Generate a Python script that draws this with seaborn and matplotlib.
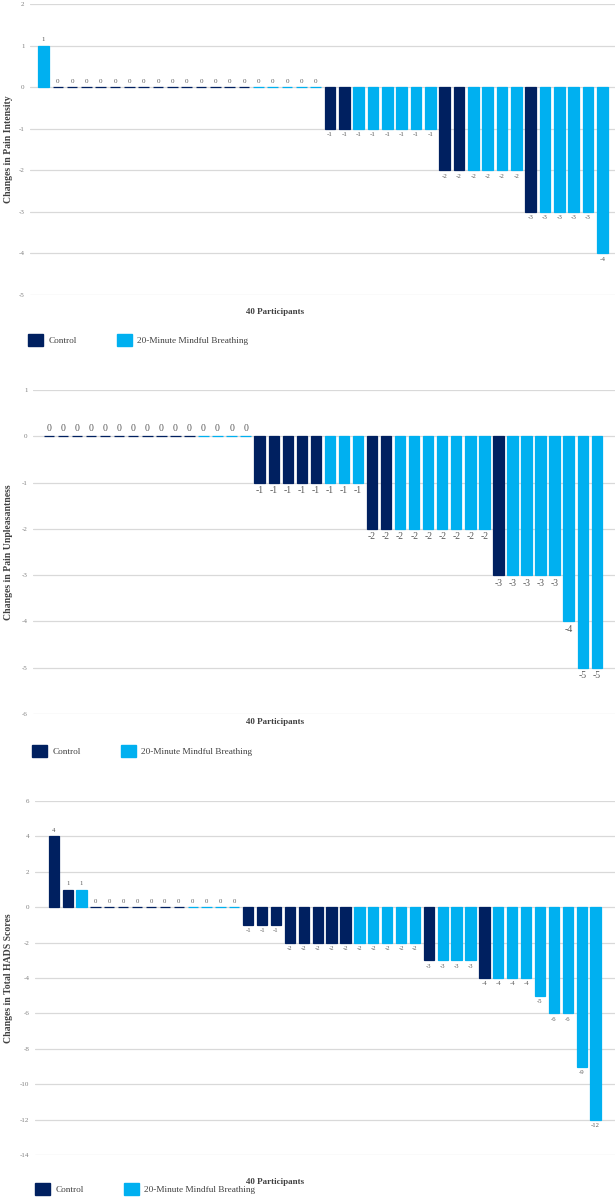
import matplotlib
matplotlib.use("Agg")
import matplotlib.pyplot as plt
import seaborn as sns
import pandas as pd
from matplotlib.patches import Patch

C = "Control"
M = "20-Minute Mindful Breathing"

# Panel 1: Changes in Pain Intensity
intensity_values = [1,
                    0, 0, 0, 0, 0, 0, 0, 0, 0, 0, 0, 0, 0, 0, 0, 0, 0, 0, 0,
                    -1, -1, -1, -1, -1, -1, -1, -1,
                    -2, -2, -2, -2, -2, -2,
                    -3, -3, -3, -3, -3,
                    -4]
intensity_groups = [M,
                    C, C, C, C, C, C, C, C, C, C, C, C, C, C, M, M, M, M, M,
                    C, C, M, M, M, M, M, M,
                    C, C, M, M, M, M,
                    C, M, M, M, M,
                    M]

# Panel 2: Changes in Pain Unpleasantness
unpleasant_values = [0, 0, 0, 0, 0, 0, 0, 0, 0, 0, 0, 0, 0, 0, 0,
                     -1, -1, -1, -1, -1, -1, -1, -1,
                     -2, -2, -2, -2, -2, -2, -2, -2, -2,
                     -3, -3, -3, -3, -3,
                     -4,
                     -5, -5]
unpleasant_groups = [C, C, C, C, C, C, C, C, C, C, C, M, M, M, M,
                     C, C, C, C, C, M, M, M,
                     C, C, M, M, M, M, M, M, M,
                     C, M, M, M, M,
                     M,
                     M, M]

# Panel 3: Changes in Total HADS Scores
hads_values = [4, 1, 1,
               0, 0, 0, 0, 0, 0, 0, 0, 0, 0, 0,
               -1, -1, -1,
               -2, -2, -2, -2, -2, -2, -2, -2, -2, -2,
               -3, -3, -3, -3,
               -4, -4, -4, -4,
               -5,
               -6, -6,
               -9,
               -12]
hads_groups = [C, C, M,
               C, C, C, C, C, C, C, M, M, M, M,
               C, C, C,
               C, C, C, C, C, M, M, M, M, M,
               C, M, M, M,
               C, M, M, M,
               M,
               M, M,
               M,
               M]

intensity_ticks = [2, 1, 0, -1, -2, -3, -4, -5]
unpleasant_ticks = [1, 0, -1, -2, -3, -4, -5, -6]
hads_ticks = [6, 4, 2, 0, -2, -4, -6, -8, -10, -12, -14]

sns.set_theme(style="white")
plt.rcParams['font.family'] = ['Liberation Serif', 'DejaVu Serif']

W, H = 615, 1200
fig = plt.figure(figsize=(W / 100, H / 100), dpi=100)
palette = {C: "#002060", M: "#00b0f0"}
GRID = "#d9d9d9"
TXT = "#595959"


def panel(px_left, px_top, px_bottom, xlim, values, groups, ylim, yticks,
          ylabel, label_size, tick_size):
    rect = [px_left / W, 1 - px_bottom / H, (W - px_left) / W,
            (px_bottom - px_top) / H]
    ax = fig.add_axes(rect)
    df = pd.DataFrame({"participant": [str(i) for i in range(len(values))],
                       "change": values, "group": groups})
    sns.barplot(data=df, x="participant", y="change", hue="group",
                palette=palette, dodge=False, width=0.74, legend=False,
                order=list(df["participant"]), hue_order=[C, M],
                saturation=1, ax=ax, zorder=3)
    for p in ax.patches:
        p.set_edgecolor(p.get_facecolor())
        p.set_linewidth(0.9)
    for cont in ax.containers:
        ax.bar_label(cont, fmt="%d", padding=2.5, fontsize=label_size,
                     color=TXT)
    ax.set_ylim(*ylim)
    ax.set_xlim(*xlim)
    ax.set_yticks(yticks)
    ax.set_yticklabels([str(t) for t in yticks], fontsize=tick_size,
                       color="#7f7f7f")
    ax.tick_params(axis="y", length=0, pad=4)
    ax.set_xticks([])
    ax.set_xlabel("")
    ax.yaxis.grid(True, color=GRID, lw=0.9, zorder=0)
    ax.set_axisbelow(True)
    for s in ax.spines.values():
        s.set_visible(False)
    ax.set_ylabel(ylabel, fontsize=7, fontweight="bold", color="#404040")
    width_px = W - px_left
    ax.yaxis.set_label_coords((13 - px_left) / width_px, 0.5)
    return ax


def footer(px_title_y, px_legend_y, px_legend_x, colspace):
    fig.text(275 / W, 1 - px_title_y / H, "40 Participants", ha="center",
             va="center", fontsize=6.5, fontweight="bold", color="#404040")
    handles = [Patch(facecolor=palette[C], edgecolor=palette[C], label=C),
               Patch(facecolor=palette[M], edgecolor=palette[M], label=M)]
    fig.legend(handles=handles, loc="center left",
               bbox_to_anchor=(px_legend_x / W, 1 - px_legend_y / H),
               ncol=2, frameon=False, fontsize=6.7, handlelength=1.6,
               handleheight=1.6, handletextpad=0.6, columnspacing=colspace,
               borderpad=0, borderaxespad=0, labelcolor="#404040")


panel(30, 4, 295, (-0.94, 39.88), intensity_values, intensity_groups,
      (-5, 2), intensity_ticks, "Changes in Pain Intensity", 5, 5)
footer(312, 340, 28, 4.3)

panel(33, 390, 714, (-1.14, 40.3), unpleasant_values, unpleasant_groups,
      (-6, 1), unpleasant_ticks, "Changes in Pain Unpleasantness", 7, 5)
footer(722, 751, 32, 4.3)

panel(35, 801, 1155, (-1.35, 40.4), hads_values, hads_groups,
      (-14, 6), hads_ticks, "Changes in Total HADS Scores", 4.8, 5)
footer(1182, 1189, 35, 4.3)

fig.savefig("out.png", dpi=100, facecolor="white")
